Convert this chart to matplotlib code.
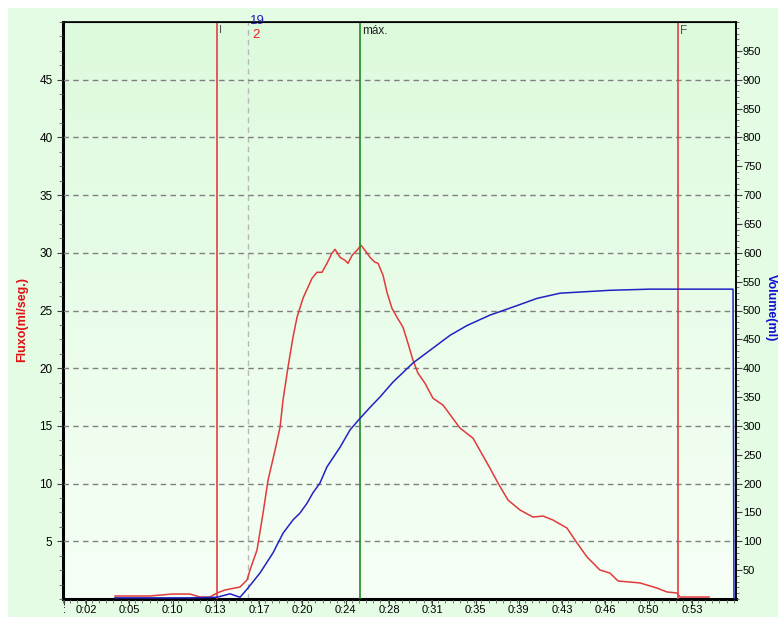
import numpy as np
import matplotlib
matplotlib.use('Agg')
import matplotlib.pyplot as plt
from matplotlib.patches import Rectangle
from matplotlib.ticker import MultipleLocator, FixedLocator

plt.rcParams['font.family'] = ['Liberation Sans', 'DejaVu Sans']

# flow (ml/s) vs time (s)
flow_t = [4.38, 5.64, 7.32, 9.18, 10.69, 11.53, 12.37, 12.96, 13.64, 14.90, 15.49, 15.74,
          16.33, 16.84, 17.26, 17.85, 18.27, 18.52, 18.94, 19.36, 19.70, 20.20, 20.62, 20.96,
          21.38, 21.80, 22.22, 22.64, 22.90, 23.32, 23.74, 23.99, 24.33, 24.75, 25.08, 25.42,
          25.84, 26.26, 26.52, 26.94, 27.27, 27.69, 28.11, 28.62, 29.04, 29.46, 29.88, 30.47,
          31.14, 31.99, 33.42, 34.51, 35.94, 36.62, 37.46, 38.47, 39.56, 40.40, 41.25, 42.42,
          43.27, 44.11, 45.20, 46.04, 46.72, 47.73, 48.57, 50.00, 50.84, 51.68, 51.94, 54.38]
flow_v = [0.26, 0.26, 0.26, 0.43, 0.43, 0.17, 0.17, 0.52, 0.78, 1.04, 1.65, 2.51,
          4.24, 7.45, 10.30, 12.90, 14.89, 17.23, 20.09, 22.68, 24.42, 26.06, 27.01, 27.79,
          28.31, 28.31, 29.09, 29.96, 30.30, 29.61, 29.35, 29.09, 29.78, 30.22, 30.65, 30.22,
          29.61, 29.18, 29.09, 28.05, 26.58, 25.19, 24.42, 23.55, 22.16, 20.69, 19.57, 18.70,
          17.40, 16.80, 14.81, 13.94, 11.34, 10.04, 8.57, 7.71, 7.10, 7.19, 6.84, 6.15,
          4.85, 3.64, 2.51, 2.25, 1.56, 1.47, 1.39, 0.95, 0.61, 0.52, 0.17, 0.17]

# volume (ml) vs time (s)
vol_t = [4.38, 10.69, 12.96, 14.06, 14.90, 15.49, 16.58, 17.68, 18.52, 19.36, 19.95, 20.54,
         21.04, 21.63, 22.22, 23.32, 24.16, 25.00, 25.84, 26.68, 27.78, 29.46, 30.89, 32.58,
         34.01, 35.94, 37.88, 39.90, 41.84, 43.52, 46.04, 49.41, 56.40, 56.48]
vol_v = [2, 2, 3, 9, 3, 17, 45, 80, 114, 137, 149, 166,
         184, 201, 229, 263, 293, 313, 332, 350, 376, 409, 431, 457,
         474, 492, 506, 521, 530, 532, 535, 537, 537, 0]

tick_labels = [':', '0:02', '0:05', '0:10', '0:13', '0:17', '0:20', '0:24', '0:28',
               '0:31', '0:35', '0:39', '0:43', '0:46', '0:50', '0:53']
t_start = 12.96
t_cursor = 15.57
t_max = 25.0
t_end = 51.77

W, H = 778, 617
fig = plt.figure(figsize=(W / 100, H / 100), dpi=100)
fig.patches.append(Rectangle((8 / W, 0), 1, 1 - 8 / H, transform=fig.transFigure,
                             facecolor='#e4fbe4', edgecolor='none', zorder=-10))

ax = fig.add_axes([63 / W, 1 - 599 / H, (736 - 63) / W, (599 - 22) / H])
ax.set_facecolor('none')
grad = np.linspace(0, 1, 256).reshape(-1, 1)
cmap = matplotlib.colors.LinearSegmentedColormap.from_list('bg', ['#f6fff6', '#ddfadd'])
ax.imshow(grad, cmap=cmap, origin='lower', extent=[0, 1, 0, 1], aspect='auto',
          transform=ax.transAxes, zorder=0)

xmax = 56.65
ax.set_xlim(0, xmax)
ax.set_ylim(0, 50)

ax.yaxis.grid(True, linestyle=(0, (4, 3)), color='#808080', linewidth=1)
ax.set_axisbelow(False)

ax.plot(flow_t, flow_v, color='#e03a3a', linewidth=1.1, zorder=3)

ax.axvline(t_start, color='#e04040', linewidth=1.2, zorder=4)
ax.axvline(t_cursor, color='#b8b8b8', linewidth=1, linestyle=(0, (4, 3)), zorder=2)
ax.axvline(t_max, color='#208a20', linewidth=1.2, zorder=4)
ax.axvline(t_end, color='#e04040', linewidth=1.2, zorder=4)

ax.text(t_start + 0.15, 49.7, 'I', color='#505050', fontsize=8, va='top', ha='left')
ax.text(t_cursor + 0.4, 49.4, '2', color='#e02020', fontsize=9.5, va='top', ha='left')
ax.text(t_cursor + 0.2, 49.6, '19', color='#2020c0', fontsize=9.5, va='bottom', ha='left')
ax.text(t_max + 0.15, 49.7, 'máx.', color='#202020', fontsize=8.5, va='top', ha='left')
ax.text(t_end + 0.15, 49.7, 'F', color='#505050', fontsize=8.5, va='top', ha='left')

ticks = [0.1] + [1.94 + 3.643 * k for k in range(15)]
ax.xaxis.set_major_locator(FixedLocator(ticks))
ax.set_xticklabels(tick_labels)
ax.xaxis.set_minor_locator(MultipleLocator(3.643 / 6))
ax.yaxis.set_major_locator(FixedLocator([5, 10, 15, 20, 25, 30, 35, 40, 45]))
ax.yaxis.set_minor_locator(MultipleLocator(1.25))
ax.tick_params(axis='both', which='major', labelsize=8.5, length=4, color='#404040', direction='out')
ax.tick_params(axis='both', which='minor', length=3, color='#606060', direction='out')
ax.tick_params(axis='x', labelsize=8, pad=0.5)

for s in ['left', 'bottom']:
    ax.spines[s].set_linewidth(2.2)
    ax.spines[s].set_color('black')
ax.spines['top'].set_linewidth(1.2)
ax.spines['right'].set_linewidth(1.2)

ax.set_ylabel('Fluxo(ml/seg.)', color='#e01010', fontweight='bold', fontsize=9)
ax.yaxis.set_label_coords(-0.052, 0.485)

ax2 = ax.twinx()
ax2.set_ylim(0, 1000)
ax2.plot(vol_t, vol_v, color='#2222c4', linewidth=1.1, zorder=3)
ax2.yaxis.set_major_locator(FixedLocator(list(range(50, 1000, 50))))
ax2.yaxis.set_minor_locator(MultipleLocator(10))
ax2.tick_params(axis='y', which='major', labelsize=8, length=4, color='#404040', pad=1)
ax2.tick_params(axis='y', which='minor', length=2.5, color='#606060')
ax2.spines['right'].set_linewidth(1.2)
ax2.set_ylabel('Volume(ml)', color='#1010d0', fontweight='bold', fontsize=9, rotation=270)
ax2.yaxis.set_label_coords(1.0605, 0.505)
ax2.set_xlim(0, xmax)

fig.savefig('out.png', dpi=100)
